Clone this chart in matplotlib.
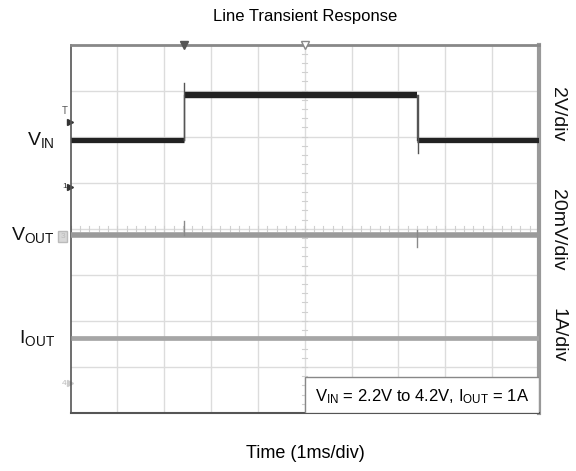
import matplotlib
matplotlib.use("Agg")
import matplotlib.pyplot as plt
from matplotlib import transforms
from matplotlib.patches import Rectangle
import numpy as np

plt.rcParams['font.family'] = ['Liberation Sans', 'DejaVu Sans']
plt.rcParams['mathtext.fontset'] = 'custom'
plt.rcParams['mathtext.rm'] = 'Liberation Sans'
plt.rcParams['mathtext.it'] = 'Liberation Sans'

# ---- data (in graticule divisions: x 0..10 = 10 ms, y 0..8) ----
vin_t = [0.0, 2.42, 2.42, 7.40, 7.40, 10.0]
vin_v = [5.93, 5.93, 6.90, 6.90, 5.93, 5.93]
vin_spike_t = [2.42, 7.42]
vin_spike_lo = [5.93, 5.65]
vin_spike_hi = [7.16, 6.90]

vout_t = [0.0, 10.0]
vout_v = [3.875, 3.875]
vout_spike_t = [2.42, 7.40]
vout_spike_lo = [3.86, 3.61]
vout_spike_hi = [4.17, 3.98]

iout_t = [0.0, 10.0]
iout_v = [1.62, 1.62]

trigger_t = 2.42
title = "Line Transient Response"
xlabel = "Time (1ms/div)"
scale_labels = ["2V/div", "20mV/div", "1A/div"]
scale_label_y = [6.49, 3.97, 1.69]
channel_labels = [r"V$_{\mathrm{IN}}$", r"V$_{\mathrm{OUT}}$", r"I$_{\mathrm{OUT}}$"]
channel_label_y = [5.93, 3.875, 1.62]
note = r"V$_{\mathrm{IN}}$ = 2.2V to 4.2V, I$_{\mathrm{OUT}}$ = 1A"

fig = plt.figure(figsize=(5.76, 4.71), dpi=100)
ax = fig.add_axes([70.5/576, 1-413/471, (539-70.5)/576, (413-44.5)/471])
ax.set_xlim(0, 10)
ax.set_ylim(0, 8)

# graticule
for x in range(1, 10):
    ax.axvline(x, color='#dcdcdc', lw=1.0, zorder=1)
for y in range(1, 8):
    ax.axhline(y, color='#dcdcdc', lw=1.0, zorder=1)
# center-line minor ticks
for x in np.arange(0, 10.01, 0.2):
    ax.plot([x, x], [3.95, 4.05], color='#d0d0d0', lw=0.8, zorder=1)
for y in np.arange(0, 8.01, 0.2):
    ax.plot([4.95, 5.05], [y, y], color='#d0d0d0', lw=0.8, zorder=1)

# traces
ax.plot(iout_t, iout_v, color='#a6a6a6', lw=3.4, solid_capstyle='butt', zorder=3)
ax.plot(vout_t, vout_v, color='#9a9a9a', lw=4.0, solid_capstyle='butt', zorder=3)
for t, lo, hi in zip(vout_spike_t, vout_spike_lo, vout_spike_hi):
    ax.plot([t, t], [lo, hi], color='#8a8a8a', lw=1.0, zorder=3)

# VIN: thick horizontal segments, thin vertical edges
for i in range(len(vin_t) - 1):
    t0, t1 = vin_t[i], vin_t[i + 1]
    v0, v1 = vin_v[i], vin_v[i + 1]
    if v0 == v1:
        lw = 4.6 if v0 > 6.5 else 3.8
        ax.plot([t0, t1], [v0, v1], color='#222222', lw=lw, solid_capstyle='butt', zorder=4)
    else:
        ax.plot([t0, t1], [v0, v1], color='#555555', lw=1.0, zorder=4)
for t, lo, hi in zip(vin_spike_t, vin_spike_lo, vin_spike_hi):
    ax.plot([t, t], [lo, hi], color='#555555', lw=1.0, zorder=4)

# spines
for s, c, w in [('left', '#555555', 1.2), ('bottom', '#555555', 1.5),
                ('top', '#888888', 2.0), ('right', '#999999', 3.0)]:
    ax.spines[s].set_color(c)
    ax.spines[s].set_linewidth(w)
ax.set_xticks([])
ax.set_yticks([])

# top markers
ax.plot([trigger_t], [8], marker='v', ms=6, color='#555555', clip_on=False, zorder=6)
ax.plot([5], [7.98], marker='v', ms=6, mfc='white', mec='#888888', clip_on=False, zorder=6)

# left markers
blend = transforms.blended_transform_factory(ax.transAxes, ax.transData)
ax.text(-0.006, 6.55, "T", transform=blend, fontsize=7, color='#555555', ha='right', va='center')
ax.plot([-0.002], [6.32], marker='>', ms=5, color='#333333', transform=blend, clip_on=False)
ax.text(-0.008, 4.92, "1", transform=blend, fontsize=6, color='#333333', ha='right', va='center')
ax.plot([-0.002], [4.91], marker='>', ms=5, color='#333333', transform=blend, clip_on=False)
ax.text(-0.012, 3.84, "3", transform=blend, fontsize=6, color='#bbbbbb', ha='right', va='center',
        bbox=dict(boxstyle='square,pad=0.25', fc='#d8d8d8', ec='#bbbbbb'))
ax.text(-0.008, 0.65, "4", transform=blend, fontsize=6, color='#bbbbbb', ha='right', va='center')
ax.plot([-0.002], [0.66], marker='>', ms=5, color='#cccccc', transform=blend, clip_on=False)

# channel labels
for lab, y in zip(channel_labels, channel_label_y):
    ax.text(-0.033, y, lab, transform=blend, fontsize=14, ha='right', va='center', color='#111111')

# scale labels on right
for lab, y in zip(scale_labels, scale_label_y):
    ax.text(1.04, y, lab, transform=blend, fontsize=14, rotation=270, ha='center', va='center',
            color='#111111')

# note box
ax.add_patch(Rectangle((5.0, 0.0), 5.0, 0.78, fc='white', ec='#888888', lw=1.0, zorder=7))
ax.text(7.5, 0.36, note, fontsize=12, ha='center', va='center', zorder=8)

fig.text(0.53, 1-17/471, title, fontsize=12, ha='center', va='center')
fig.text(0.53, 1-453/471, xlabel, fontsize=13, ha='center', va='center')

fig.savefig("out.png", dpi=100)
